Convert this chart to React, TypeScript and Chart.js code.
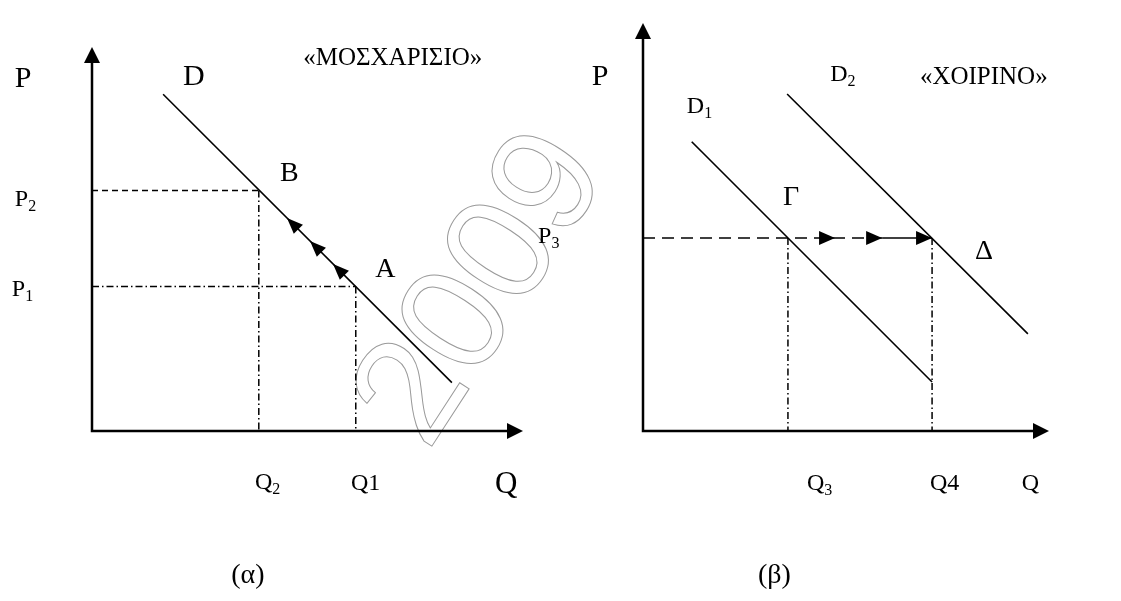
import React, { useEffect, useRef } from "react";
import { Chart, registerables } from "chart.js";

Chart.register(...registerables);

const SERIF = '"Liberation Serif", "Times New Roman", serif';

// ---------- Panel (α): «ΜΟΣΧΑΡΙΣΙΟ» ----------
const demandD = [
  { x: 16.5, y: 87.7 },
  { x: 83.5, y: 12.6 },
];
const pointB = { x: 38.7, y: 62.6 };
const pointA = { x: 61.2, y: 37.6 };
const moveArrowsAB = [
  { x: 45.24, y: 55.47 },
  { x: 50.58, y: 49.48 },
  { x: 55.92, y: 43.49 },
];
const labelsAlpha = [
  { text: "P", x: -17.9, y: 89.6, size: 30 },
  { text: "D", x: 21.1, y: 90.1, size: 30 },
  { text: "«ΜΟΣΧΑΡΙΣΙΟ»", x: 49.0, y: 95.3, size: 25 },
  { text: "B", x: 43.6, y: 65.1, size: 28 },
  { text: "A", x: 65.7, y: 40.1, size: 28 },
  { text: "P", sub: "2", x: -17.9, y: 58.6, size: 24 },
  { text: "P", sub: "1", x: -18.6, y: 35.2, size: 24 },
  { text: "P", sub: "3", x: 103.5, y: 49.0, size: 24 },
  { text: "Q", sub: "2", x: 37.8, y: -15.1, size: 24 },
  { text: "Q1", x: 60.1, y: -15.4, size: 24 },
  { text: "Q", x: 93.5, y: -16.1, size: 31 },
  { text: "(α)", x: 32.3, y: -39.6, size: 28 },
];

// ---------- Panel (β): «ΧΟΙΡΙΝΟ» ----------
const demandD1 = [
  { x: 12.0, y: 70.9 },
  { x: 71.2, y: 12.0 },
];
const demandD2 = [
  { x: 35.5, y: 82.6 },
  { x: 94.8, y: 23.8 },
];
const pointGamma = { x: 35.7, y: 47.3 };
const pointDelta = { x: 71.2, y: 47.3 };
const priceLevel = 47.3;
const shiftArrowTips = [47.3, 58.9, 71.2];
const labelsBeta = [
  { text: "P", x: -12.6, y: 84.8, size: 30 },
  { text: "D", sub: "1", x: 10.8, y: 77.9, size: 24 },
  { text: "D", sub: "2", x: 46.1, y: 85.8, size: 24 },
  { text: "«ΧΟΙΡΙΝΟ»", x: 68.2, y: 85.0, size: 25 },
  { text: "Γ", x: 34.5, y: 55.4, size: 28 },
  { text: "Δ", x: 81.8, y: 42.2, size: 28 },
  { text: "Q", sub: "3", x: 40.4, y: -14.5, size: 24 },
  { text: "Q4", x: 70.7, y: -14.5, size: 24 },
  { text: "Q", x: 93.3, y: -14.5, size: 24 },
  { text: "(β)", x: 28.3, y: -37.3, size: 28 },
];

type Pt = { x: number; y: number };
type Label = { text: string; sub?: string; x: number; y: number; size: number };
type ArrowSpec = { tip: Pt; dir: Pt; len: number; width: number };

function drawArrowHead(
  ctx: CanvasRenderingContext2D,
  x: number,
  y: number,
  ang: number,
  L: number,
  W: number
) {
  const bx = x - L * Math.cos(ang);
  const by = y - L * Math.sin(ang);
  const nx = (-Math.sin(ang) * W) / 2;
  const ny = (Math.cos(ang) * W) / 2;
  ctx.beginPath();
  ctx.moveTo(x, y);
  ctx.lineTo(bx + nx, by + ny);
  ctx.lineTo(bx - nx, by - ny);
  ctx.closePath();
  ctx.fill();
}

const diagramPlugin = {
  id: "diagram",
  beforeDatasetsDraw(chart: any, _a: any, opts: any) {
    if (!opts.watermark) return;
    const ctx: CanvasRenderingContext2D = chart.ctx;
    ctx.save();
    ctx.translate(484, 290);
    ctx.rotate((-57 * Math.PI) / 180);
    ctx.font = `150px "Liberation Sans", Arial, sans-serif`;
    ctx.textAlign = "center";
    ctx.textBaseline = "middle";
    ctx.strokeStyle = "#9a9a9a";
    ctx.lineWidth = 1;
    ctx.strokeText("2009", 0, 0);
    ctx.restore();
  },
  afterDatasetsDraw(chart: any, _a: any, opts: any) {
    const ctx: CanvasRenderingContext2D = chart.ctx;
    const xs = chart.scales.x;
    const ys = chart.scales.y;
    const px = (v: number) => xs.getPixelForValue(v);
    const py = (v: number) => ys.getPixelForValue(v);
    ctx.save();
    ctx.fillStyle = "#000";
    ctx.strokeStyle = "#000";
    // axes with arrow heads
    const x0 = px(0);
    const y0 = py(0);
    const xEnd = px(xs.max);
    const yEnd = py(ys.max);
    ctx.lineWidth = 2.5;
    ctx.lineCap = "butt";
    ctx.beginPath();
    ctx.moveTo(x0, yEnd + 10);
    ctx.lineTo(x0, y0);
    ctx.lineTo(xEnd - 10, y0);
    ctx.stroke();
    drawArrowHead(ctx, x0, yEnd, -Math.PI / 2, 16, 16);
    drawArrowHead(ctx, xEnd, y0, 0, 16, 16);
    // movement arrows
    (opts.arrows as ArrowSpec[]).forEach((a) => {
      const tx = px(a.tip.x);
      const ty = py(a.tip.y);
      const ang = Math.atan2(
        py(a.tip.y + a.dir.y) - ty,
        px(a.tip.x + a.dir.x) - tx
      );
      drawArrowHead(ctx, tx, ty, ang, a.len, a.width);
    });
    // labels
    ctx.textAlign = "left";
    ctx.textBaseline = "alphabetic";
    (opts.labels as Label[]).forEach((l) => {
      const lx = px(l.x);
      const ly = py(l.y);
      ctx.font = `${l.size}px ${SERIF}`;
      ctx.fillText(l.text, lx, ly);
      if (l.sub) {
        const w = ctx.measureText(l.text).width;
        ctx.font = `${Math.round(l.size * 0.68)}px ${SERIF}`;
        ctx.fillText(l.sub, lx + w, ly + l.size * 0.2);
      }
    });
    ctx.restore();
  },
};

function lineSet(data: Pt[], width: number, dash: number[] = []) {
  return {
    data,
    showLine: true,
    borderColor: "#000",
    backgroundColor: "#000",
    borderWidth: width,
    borderDash: dash,
    pointRadius: 0,
    fill: false,
    tension: 0,
  };
}

function makeChart(
  canvas: HTMLCanvasElement,
  datasets: any[],
  padding: { left: number; right: number; top: number; bottom: number },
  labels: Label[],
  arrows: ArrowSpec[],
  watermark: boolean
) {
  return new Chart(canvas, {
    type: "scatter",
    data: { datasets },
    plugins: [diagramPlugin],
    options: {
      responsive: false,
      devicePixelRatio: 1,
      animation: false,
      events: [],
      layout: { padding },
      scales: {
        x: { type: "linear", min: 0, max: 100, display: false },
        y: { type: "linear", min: 0, max: 100, display: false },
      },
      plugins: {
        legend: { display: false },
        tooltip: { enabled: false },
        diagram: { labels, arrows, watermark },
      } as any,
    },
  } as any);
}

const DASH = [6, 4];
const DASH_DOT = [7, 3, 1.5, 3];
const LONG_DASH = [12, 7];

export default function App() {
  const refA = useRef<HTMLCanvasElement>(null);
  const refB = useRef<HTMLCanvasElement>(null);

  useEffect(() => {
    const alphaSets = [
      lineSet(demandD, 1.6),
      lineSet([{ x: 0, y: pointB.y }, pointB], 1.5, DASH),
      lineSet([pointB, { x: pointB.x, y: 0 }], 1.5, DASH_DOT),
      lineSet([{ x: 0, y: pointA.y }, pointA], 1.5, DASH_DOT),
      lineSet([pointA, { x: pointA.x, y: 0 }], 1.5, DASH_DOT),
    ];
    const dirAB = { x: pointB.x - pointA.x, y: pointB.y - pointA.y };
    const alphaArrows: ArrowSpec[] = moveArrowsAB.map((t) => ({
      tip: t,
      dir: dirAB,
      len: 16,
      width: 13,
    }));

    const betaSets = [
      lineSet(demandD1, 1.6),
      lineSet(demandD2, 1.6),
      lineSet(
        [
          { x: 0, y: priceLevel },
          { x: shiftArrowTips[1], y: priceLevel },
        ],
        1.6,
        LONG_DASH
      ),
      lineSet([{ x: shiftArrowTips[1], y: priceLevel }, pointDelta], 1.6),
      lineSet([pointGamma, { x: pointGamma.x, y: 0 }], 1.5, DASH_DOT),
      lineSet([pointDelta, { x: pointDelta.x, y: 0 }], 1.5, DASH_DOT),
    ];
    const betaArrows: ArrowSpec[] = shiftArrowTips.map((x) => ({
      tip: { x, y: priceLevel },
      dir: { x: 1, y: 0 },
      len: 16,
      width: 14,
    }));

    const a = makeChart(
      refA.current!,
      alphaSets,
      { left: 92, right: 1121 - 523, top: 47, bottom: 601 - 431 },
      labelsAlpha,
      alphaArrows,
      true
    );
    const b = makeChart(
      refB.current!,
      betaSets,
      { left: 643, right: 1121 - 1049, top: 23, bottom: 601 - 431 },
      labelsBeta,
      betaArrows,
      false
    );
    return () => {
      a.destroy();
      b.destroy();
    };
  }, []);

  const canvasStyle: React.CSSProperties = {
    position: "absolute",
    left: 0,
    top: 0,
    width: 1121,
    height: 601,
  };

  return (
    <div
      style={{
        position: "fixed",
        left: 0,
        top: 0,
        width: 1121,
        height: 601,
        background: "#fff",
      }}
    >
      <canvas ref={refA} width={1121} height={601} style={canvasStyle} />
      <canvas ref={refB} width={1121} height={601} style={canvasStyle} />
    </div>
  );
}
